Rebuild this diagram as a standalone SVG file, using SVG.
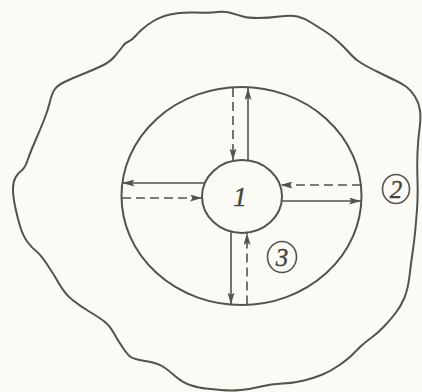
<svg xmlns="http://www.w3.org/2000/svg" width="422" height="392" viewBox="0 0 422 392">
<defs>
<style>
.ln{fill:none;stroke:#55524a;stroke-width:2}
.ar{fill:none;stroke:#55524a;stroke-width:1.6}
.ds{stroke-dasharray:9 5}
.lbl{font-family:"Liberation Serif",serif;font-style:italic;fill:#46433c;stroke:#46433c;stroke-width:0.4;text-anchor:middle}
.ring{fill:none;stroke:#55524a;stroke-width:1.6}
</style>
<marker id="ah" markerWidth="12" markerHeight="7" refX="12" refY="3.5" orient="auto" markerUnits="userSpaceOnUse">
<path d="M0,0 L12,3.5 L0,7 L2.5,3.5 z" fill="#55524a"/>
</marker>
</defs>
<rect width="422" height="392" fill="#fbfaf5"/>
<g id="environment">
<path class="ln" d="M195.5,12.5 Q211,13 217.5,12 Q224,11 231,13 Q238,15 243,16.5 Q248,18 258,18 Q268,18 279.5,16.5 Q291,15 297.5,16.5 Q304,18 311,22.5 Q318,27 324.5,31 Q331,35 337.5,41 Q344,47 349,52.5 Q354,58 357.5,60.5 Q361,63 364.5,65 Q368,67 378,72 Q388,77 394.5,80 Q401,83 406,86.5 Q411,90 415,96.5 Q419,103 420,110.5 Q421,118 419.5,129 Q418,140 417.5,152.5 Q417,165 417.5,180.5 Q418,196 417,209.5 Q416,223 415,233 Q414,243 412.5,253 Q411,263 409.5,276 Q408,289 404.5,297.5 Q401,306 396,312.5 Q391,319 384.5,326 Q378,333 371,338 Q364,343 360,347 Q356,351 352,355 Q348,359 339.5,365 Q331,371 322.5,374.5 Q314,378 304,380.5 Q294,383 282.5,383.5 Q271,384 261,386.5 Q251,389 241,390 Q231,391 221,390 Q211,389 205.5,388.5 Q200,388 191.5,385.5 Q183,383 175,376 Q167,369 162,366 Q157,363 145,361 Q133,359 130,356.5 Q127,354 122,346.5 Q117,339 113.5,332.5 Q110,326 105,322 Q100,318 90,312 Q80,306 72.5,300 Q65,294 59,283.5 Q53,273 46.5,263.5 Q40,254 36,251 Q32,248 27.5,242 Q23,236 20,226 Q17,216 15,206 Q13,196 13,189 Q13,182 15.5,177.5 Q18,173 21.5,170.5 Q25,168 27.5,160.5 Q30,153 35,141.5 Q40,130 44,120 Q48,110 50,101.5 Q52,93 55,89 Q58,85 65.5,81.5 Q73,78 83,74 Q93,70 101.5,66 Q110,62 115,56 Q120,50 122.5,46.5 Q125,43 128.5,41.5 Q132,40 135,36.5 Q138,33 142.5,29 Q147,25 153.5,21 Q160,17 170,14.5 Q180,12 195.5,12.5 Z"/>
</g>
<g id="region3">
<ellipse class="ln" cx="241.5" cy="196" rx="120" ry="109"/>
</g>
<g id="node1">
<ellipse class="ln" cx="242" cy="196.5" rx="40" ry="36.5"/>
<text class="lbl" x="240" y="206" font-size="27">1</text>
</g>
<g id="label2">
<ellipse class="ring" cx="396" cy="189" rx="13.5" ry="14.5"/>
<text class="lbl" x="396" y="198" font-size="25">2</text>
</g>
<g id="label3">
<ellipse class="ring" cx="282" cy="257" rx="14.5" ry="15.5"/>
<text class="lbl" x="282" y="266" font-size="25">3</text>
</g>
<g id="connectors">
<line class="ar ds" x1="233" y1="88" x2="233" y2="160.5" marker-end="url(#ah)"/>
<line class="ar" x1="248" y1="160.5" x2="248" y2="88" marker-end="url(#ah)"/>
<line class="ar" x1="204.5" y1="183" x2="122.5" y2="183" marker-end="url(#ah)"/>
<line class="ar ds" x1="122" y1="198" x2="202" y2="198" marker-end="url(#ah)"/>
<line class="ar ds" x1="361" y1="185" x2="280.5" y2="185" marker-end="url(#ah)"/>
<line class="ar" x1="281.5" y1="201" x2="361" y2="201" marker-end="url(#ah)"/>
<line class="ar" x1="231" y1="231.5" x2="231" y2="304.5" marker-end="url(#ah)"/>
<line class="ar ds" x1="247" y1="304.5" x2="247" y2="233" marker-end="url(#ah)"/>
</g>
</svg>
